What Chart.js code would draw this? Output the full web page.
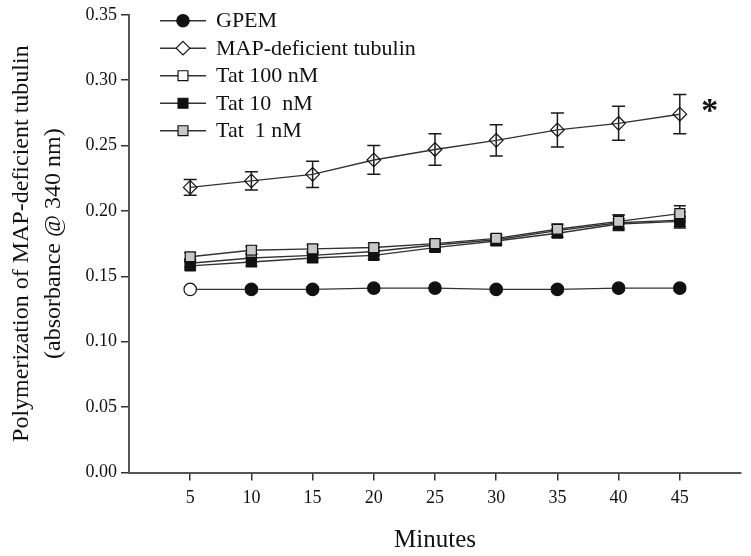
<!DOCTYPE html>
<html><head><meta charset="utf-8">
<script src="https://cdn.jsdelivr.net/npm/chart.js@4/dist/chart.umd.min.js"></script>
<style>html,body{margin:0;padding:0;background:#fff;}</style>
</head><body>
<canvas id="c" width="751" height="556"></canvas>
<script>
// ---- data ----
const minutes = [5, 10, 15, 20, 25, 30, 35, 40, 45];
const seriesNames = ['GPEM', 'MAP-deficient tubulin', 'Tat 100 nM', 'Tat 10  nM', 'Tat  1 nM'];
const gpem      = [0.140, 0.140, 0.140, 0.141, 0.141, 0.140, 0.140, 0.141, 0.141];
const gpemErr   = [0.002, 0.002, 0.002, 0.002, 0.002, 0.002, 0.002, 0.002, 0.002];
const mapTub    = [0.218, 0.223, 0.228, 0.239, 0.247, 0.254, 0.262, 0.267, 0.274];
const mapTubErr = [0.006, 0.007, 0.010, 0.011, 0.012, 0.012, 0.013, 0.013, 0.015];
const tat100    = [0.160, 0.164, 0.166, 0.169, 0.174, 0.178, 0.185, 0.191, 0.193];
const tat100Err = [0.003, 0.003, 0.003, 0.003, 0.004, 0.004, 0.005, 0.006, 0.006];
const tat10     = [0.158, 0.161, 0.164, 0.166, 0.172, 0.177, 0.183, 0.190, 0.192];
const tat10Err  = [0.003, 0.003, 0.003, 0.003, 0.003, 0.003, 0.003, 0.004, 0.004];
const tat1      = [0.165, 0.170, 0.171, 0.172, 0.175, 0.179, 0.186, 0.192, 0.198];
const tat1Err   = [0.003, 0.003, 0.003, 0.003, 0.003, 0.003, 0.003, 0.005, 0.006];
const yTickValues = [0, 0.05, 0.10, 0.15, 0.20, 0.25, 0.30, 0.35];
const xTickValues = [5, 10, 15, 20, 25, 30, 35, 40, 45];
const xTitle = 'Minutes';
const yTitle = ['Polymerization of MAP-deficient tubulin', '(absorbance @ 340 nm)'];
const significanceMark = '*';

const SERIF = '"Liberation Serif", "Times New Roman", serif';
const LINE = '#333';

function pts(vals) { return minutes.map((m, i) => ({x: m, y: vals[i]})); }

const styles = [
  {style: 'circle', r: 6.2, fill: '#111', legendFill: '#111'},
  {style: 'diamond', r: 6.8, fill: 'rgba(0,0,0,0)', legendFill: '#fff'},
  {style: 'square', r: 7, fill: '#fff', legendFill: '#fff'},
  {style: 'square', r: 7, fill: '#111', legendFill: '#111'},
  {style: 'square', r: 7, fill: '#c8c8c8', legendFill: '#c8c8c8'}
];
const values = [gpem, mapTub, tat100, tat10, tat1];
const errors = [gpemErr, mapTubErr, tat100Err, tat10Err, tat1Err];
const drawOrder = [4, 3, 2, 1, 0];

function drawMarker(ctx, st, x, y, fill) {
  ctx.save();
  ctx.beginPath();
  const r = st.r;
  if (st.style === 'circle') {
    ctx.arc(x, y, r, 0, Math.PI * 2);
  } else if (st.style === 'square') {
    const s = r * Math.SQRT1_2;
    ctx.rect(x - s, y - s, 2 * s, 2 * s);
  } else {
    ctx.moveTo(x, y - r); ctx.lineTo(x + r, y); ctx.lineTo(x, y + r); ctx.lineTo(x - r, y); ctx.closePath();
  }
  ctx.fillStyle = fill;
  ctx.fill();
  ctx.lineWidth = 1.2;
  ctx.strokeStyle = '#111';
  ctx.stroke();
  ctx.restore();
}

const datasets = seriesNames.map((name, i) => ({
  label: name,
  data: pts(values[i]),
  errors: errors[i],
  borderColor: LINE,
  borderWidth: 1.4,
  pointRadius: 0,
  pointHoverRadius: 0,
  order: drawOrder[i],
  fill: false,
  tension: 0
}));

const markerPlugin = {
  id: 'markers',
  beforeDatasetsDraw(chart) {
    const ctx = chart.ctx;
    const ys = chart.scales.y;
    ctx.save();
    ctx.strokeStyle = '#1a1a1a';
    ctx.lineWidth = 1.5;
    chart.data.datasets.forEach((ds, i) => {
      const meta = chart.getDatasetMeta(i);
      meta.data.forEach((el, j) => {
        const v = ds.data[j].y, e = ds.errors[j];
        const yt = ys.getPixelForValue(v + e), yb = ys.getPixelForValue(v - e);
        const cap = i === 1 ? 6.5 : 6;
        ctx.beginPath();
        ctx.moveTo(el.x, yt); ctx.lineTo(el.x, yb);
        ctx.moveTo(el.x - cap, yt); ctx.lineTo(el.x + cap, yt);
        ctx.moveTo(el.x - cap, yb); ctx.lineTo(el.x + cap, yb);
        ctx.stroke();
      });
    });
    ctx.restore();
  },
  afterDatasetsDraw(chart) {
    const ctx = chart.ctx;
    const idx = [0, 1, 2, 3, 4];
    idx.sort((a, b) => drawOrder[b] - drawOrder[a]);
    idx.forEach(i => {
      const meta = chart.getDatasetMeta(i);
      meta.data.forEach((el, j) => {
        let fill = styles[i].fill;
        if (i === 0 && j === 0) fill = '#fff';
        drawMarker(ctx, styles[i], el.x, el.y, fill);
      });
    });
    // significance mark
    const last = chart.getDatasetMeta(1).data[minutes.length - 1];
    ctx.save();
    ctx.fillStyle = '#111';
    ctx.font = 'bold 34px ' + SERIF;
    ctx.textAlign = 'center';
    ctx.textBaseline = 'middle';
    ctx.fillText(significanceMark, last.x + 30, last.y - 2);
    ctx.restore();
    // legend
    ctx.save();
    ctx.font = '22px ' + SERIF;
    ctx.textBaseline = 'middle';
    seriesNames.forEach((name, i) => {
      const y = 20.7 + i * 27.5;
      ctx.strokeStyle = LINE;
      ctx.lineWidth = 1.4;
      ctx.beginPath(); ctx.moveTo(160, y); ctx.lineTo(206, y); ctx.stroke();
      drawMarker(ctx, styles[i], 183, y, styles[i].legendFill);
      ctx.fillStyle = '#111';
      ctx.fillText(name, 216, y + 1);
    });
    ctx.restore();
  }
};

new Chart(document.getElementById('c'), {
  type: 'line',
  data: {datasets},
  options: {
    responsive: false,
    animation: false,
    devicePixelRatio: 1,
    layout: {padding: {left: 0, right: 10, top: 14.7, bottom: 0}},
    plugins: {legend: {display: false}, tooltip: {enabled: false}},
    scales: {
      x: {
        type: 'linear', min: 0, max: 50,
        afterBuildTicks(s) { s.ticks = [0].concat(xTickValues).concat([50]).map(v => ({value: v})); },
        afterFit(s) { s.height = 83.5; },
        ticks: {
          font: {family: SERIF, size: 18}, color: '#111', padding: 7, maxRotation: 0, autoSkip: false,
          callback: v => (xTickValues.includes(v) ? String(v) : '')
        },
        grid: {
          drawOnChartArea: false, drawTicks: true, tickLength: 8, lineWidth: 1.5,
          color: c => (c.tick && xTickValues.includes(c.tick.value) ? '#333' : 'rgba(0,0,0,0)')
        },
        border: {display: true, color: '#555', width: 2},
        title: {display: true, text: xTitle, font: {family: SERIF, size: 25, lineHeight: 1.2}, color: '#111', padding: {top: 0, bottom: 1}}
      },
      y: {
        type: 'linear', min: 0, max: 0.35,
        afterBuildTicks(s) { s.ticks = yTickValues.map(v => ({value: v})); },
        afterFit(s) { s.width = 129; },
        ticks: {
          font: {family: SERIF, size: 18}, color: '#111', padding: 4, autoSkip: false,
          callback: v => Number(v).toFixed(2)
        },
        grid: {drawOnChartArea: false, drawTicks: true, tickLength: 8, lineWidth: 1.5, color: '#333'},
        border: {display: true, color: '#555', width: 2},
        title: {display: true, text: yTitle, font: {family: SERIF, size: 24, lineHeight: 1.333}, color: '#111', padding: {top: 6, bottom: 0}}
      }
    }
  },
  plugins: [markerPlugin]
});
</script>
</body></html>
